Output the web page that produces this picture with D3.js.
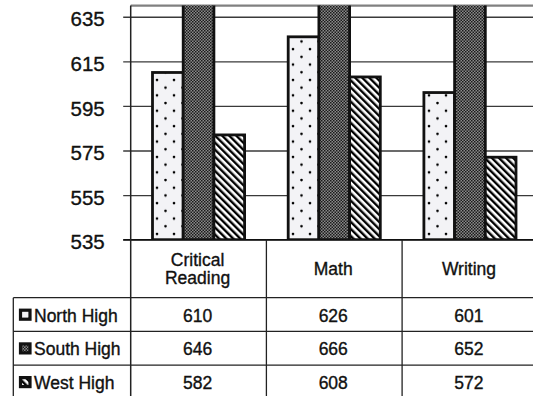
<!DOCTYPE html>
<html>
<head>
<meta charset="utf-8">
<script src="https://cdn.jsdelivr.net/npm/d3@7"></script>
<style>
  html, body { margin: 0; padding: 0; background: #fff; }
  svg { display: block; font-family: "Liberation Sans", Arial, Helvetica, sans-serif; }
  text { stroke: #111; stroke-width: 0.35px; }
</style>
</head>
<body>
<svg id="chart" width="533" height="396"></svg>
<script>
// ---- data ----
const categories = ["Critical Reading", "Math", "Writing"];
const categoryLabelLines = [["Critical", "Reading"], ["Math"], ["Writing"]];
const seriesNames = ["North High", "South High", "West High"];
const northHigh = [610, 626, 601];
const southHigh = [646, 666, 652];
const westHigh = [582, 608, 572];
const yTicks = [535, 555, 575, 595, 615, 635];

const seriesValues = [northHigh, southHigh, westHigh];
const patternIds = ["pat-dots", "pat-check", "pat-diag"];

const svg = d3.select("#chart");
const W = 533, H = 396;

// layout
const plotLeft = 130.7, catW = 135.7;
const plotTop = 5.6, plotBottom = 239.7;
const headerBottom = 297.7, rowH = 33.7;
const tableLeft = 13.3;

const x = d3.scaleBand().domain(categories)
  .range([plotLeft, plotLeft + catW * categories.length]).padding(0);
const xs = d3.scaleBand().domain(seriesNames)
  .range([0, x.bandwidth()]).paddingInner(0).paddingOuter(0.71);
const y = d3.scaleLinear().domain([535, 640]).range([plotBottom, plotTop]);

// ---- patterns ----
const defs = svg.append("defs");
const pd = defs.append("pattern").attr("id", "pat-dots")
  .attr("patternUnits", "userSpaceOnUse").attr("width", 17).attr("height", 15.4);
pd.append("rect").attr("width", 17).attr("height", 15.4).attr("fill", "#f3f3f6");
pd.append("circle").attr("cx", 4).attr("cy", 3).attr("r", 1.3).attr("fill", "#000");
pd.append("circle").attr("cx", 12.5).attr("cy", 10.7).attr("r", 1.3).attr("fill", "#000");

const pc = defs.append("pattern").attr("id", "pat-check")
  .attr("patternUnits", "userSpaceOnUse").attr("width", 3).attr("height", 3);
pc.append("rect").attr("width", 3).attr("height", 3).attr("fill", "#8a8a8a");
pc.append("rect").attr("x", 0).attr("y", 0).attr("width", 1.5).attr("height", 1.5).attr("fill", "#1a1a1a");
pc.append("rect").attr("x", 1.5).attr("y", 1.5).attr("width", 1.5).attr("height", 1.5).attr("fill", "#1a1a1a");

const pg = defs.append("pattern").attr("id", "pat-diag")
  .attr("patternUnits", "userSpaceOnUse").attr("width", 5).attr("height", 5)
  .attr("patternTransform", "rotate(-45)");
pg.append("rect").attr("width", 5).attr("height", 5).attr("fill", "#fff");
pg.append("rect").attr("x", 0).attr("y", 0).attr("width", 2.4).attr("height", 5).attr("fill", "#000");

defs.append("clipPath").attr("id", "plotclip")
  .append("rect").attr("x", plotLeft).attr("y", plotTop).attr("width", W).attr("height", plotBottom - plotTop);

// ---- gridlines + y axis ----
const yAxis = d3.axisLeft(y).tickValues(yTicks).tickSize(-(W - plotLeft + 10)).tickPadding(0).tickFormat(d3.format("d"));
const gy = svg.append("g").attr("transform", `translate(${plotLeft},0)`).call(yAxis);
gy.select(".domain").remove();
gy.selectAll(".tick line").attr("x1", -7.5).attr("x2", W).attr("stroke", "#3a3a3a").attr("stroke-width", 1.3);
gy.selectAll(".tick text").attr("x", -26).attr("dy", "0.45em")
  .attr("font-size", 20.5).attr("fill", "#111").attr("text-anchor", "end")
  .attr("font-family", "'Liberation Sans', Arial, sans-serif");

// top border
svg.append("line").attr("x1", plotLeft).attr("x2", W).attr("y1", plotTop).attr("y2", plotTop)
  .attr("stroke", "#808080").attr("stroke-width", 2.2);

// ---- bars ----
const bars = svg.append("g").attr("clip-path", "url(#plotclip)");
categories.forEach((c, ci) => {
  seriesNames.forEach((s, si) => {
    const v = seriesValues[si][ci];
    bars.append("rect")
      .attr("x", x(c) + xs(s))
      .attr("y", y(v))
      .attr("width", xs.bandwidth())
      .attr("height", y(535) - y(v))
      .attr("fill", `url(#${patternIds[si]})`)
      .attr("stroke", "#111").attr("stroke-width", 2.8);
  });
});

// ---- axis baseline & left axis line ----
svg.append("line").attr("x1", plotLeft - 7.5).attr("x2", W).attr("y1", plotBottom).attr("y2", plotBottom)
  .attr("stroke", "#111").attr("stroke-width", 1.5);
const tableBottom = headerBottom + rowH * seriesNames.length;
svg.append("line").attr("x1", plotLeft).attr("x2", plotLeft).attr("y1", plotTop).attr("y2", tableBottom)
  .attr("stroke", "#222").attr("stroke-width", 1.5);

// ---- data table ----
const tbl = svg.append("g");
categories.forEach((c, ci) => {
  if (ci === 0) return;
  tbl.append("line").attr("x1", x(c)).attr("x2", x(c)).attr("y1", plotBottom).attr("y2", tableBottom)
    .attr("stroke", "#222").attr("stroke-width", 1.3);
});
tbl.append("line").attr("x1", x.range()[1]).attr("x2", x.range()[1]).attr("y1", plotBottom).attr("y2", tableBottom)
  .attr("stroke", "#222").attr("stroke-width", 1.3);
tbl.append("line").attr("x1", tableLeft).attr("x2", tableLeft).attr("y1", headerBottom).attr("y2", tableBottom)
  .attr("stroke", "#222").attr("stroke-width", 1.3);
d3.range(seriesNames.length + 1).forEach(i => {
  const yy = headerBottom + i * rowH;
  tbl.append("line").attr("x1", tableLeft).attr("x2", W).attr("y1", yy).attr("y2", yy)
    .attr("stroke", "#222").attr("stroke-width", 1.3);
});

// category labels
const fs = 17.5, lineH = 18.7;
categories.forEach((c, ci) => {
  const lines = categoryLabelLines[ci];
  const mid = (plotBottom + headerBottom) / 2;
  const first = mid + 6.3 - (lines.length - 1) * lineH / 2;
  const t = tbl.append("text").attr("x", x(c) + x.bandwidth() / 2 - 1).attr("text-anchor", "middle")
    .attr("font-size", fs).attr("fill", "#111");
  lines.forEach((ln, li) => {
    t.append("tspan").attr("x", x(c) + x.bandwidth() / 2 - 1).attr("y", first + li * lineH).text(ln);
  });
});

// rows
seriesNames.forEach((s, si) => {
  const top = headerBottom + si * rowH;
  const base = top + 24;
  tbl.append("rect").attr("x", 20.5).attr("y", base - 11.5).attr("width", 9.5).attr("height", 9)
    .attr("fill", `url(#${patternIds[si]})`).attr("stroke", "#111").attr("stroke-width", 3.2);
  tbl.append("text").attr("x", 34).attr("y", base).attr("font-size", fs).attr("fill", "#111").text(s);
  categories.forEach((c, ci) => {
    tbl.append("text").attr("x", x(c) + x.bandwidth() / 2 - 1).attr("y", base)
      .attr("text-anchor", "middle").attr("font-size", fs).attr("fill", "#111")
      .text(seriesValues[si][ci]);
  });
});
</script>
</body>
</html>
